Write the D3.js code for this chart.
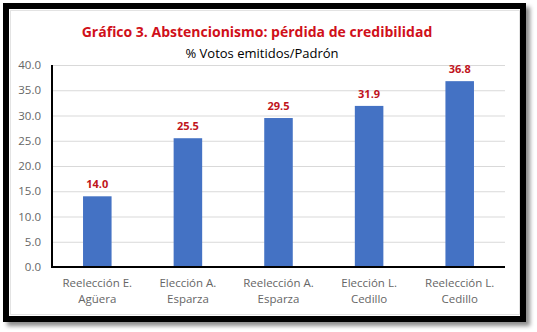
<!DOCTYPE html>
<html>
<head>
<meta charset="utf-8">
<script src="https://cdn.jsdelivr.net/npm/d3@7"></script>
<style>
  html, body { margin: 0; padding: 0; background: #fff; }
  svg { display: block; }
</style>
</head>
<body>
<svg id="chart" width="537" height="332"></svg>
<script>
// Abstention chart: share of votes cast over the electoral roll
const categories = [
  "Reelección E.\nAgüera",
  "Elección A.\nEsparza",
  "Reelección A.\nEsparza",
  "Elección L.\nCedillo",
  "Reelección L.\nCedillo"
];
const values = [14.0, 25.5, 29.5, 31.9, 36.8];
const yTicks = [0, 5, 10, 15, 20, 25, 30, 35, 40];
const titleText = "Gráfico 3. Abstencionismo: pérdida de credibilidad";
const subtitleText = "% Votos emitidos/Padrón";

const svg = d3.select("#chart");
const font = "'Open Sans', 'Noto Sans', sans-serif";

// Frame with soft drop shadow
const defs = svg.append("defs");
const f = defs.append("filter").attr("id", "shadow")
  .attr("x", "-5%").attr("y", "-5%").attr("width", "115%").attr("height", "115%");
f.append("feDropShadow").attr("dx", 4).attr("dy", 4).attr("stdDeviation", 2)
  .attr("flood-color", "#000").attr("flood-opacity", 0.45);

svg.append("rect")
  .attr("x", 6).attr("y", 6).attr("width", 517).attr("height", 313)
  .attr("fill", "#fff").attr("stroke", "#000").attr("stroke-width", 6)
  .attr("filter", "url(#shadow)");
svg.append("rect")
  .attr("x", 10.5).attr("y", 10.5).attr("width", 509).attr("height", 304)
  .attr("fill", "none").attr("stroke", "#e3e3e3").attr("stroke-width", 1);

const plot = { left: 52, right: 505, top: 65, bottom: 267 };

const x = d3.scaleBand().domain(categories).range([plot.left, plot.right])
  .paddingInner(0.685).paddingOuter(0.3425);
const y = d3.scaleLinear().domain([0, 40]).range([plot.bottom, plot.top]);

// Gridlines
svg.append("g")
  .attr("transform", `translate(${plot.left},0)`)
  .call(d3.axisLeft(y).tickValues(yTicks).tickSize(-(plot.right - plot.left)).tickFormat(""))
  .call(g => g.select(".domain").remove())
  .call(g => g.selectAll("line").attr("stroke", "#d9d9d9").attr("stroke-width", 1));

// Y tick labels
svg.append("g")
  .attr("transform", `translate(${plot.left},0)`)
  .call(d3.axisLeft(y).tickValues(yTicks).tickSize(0).tickPadding(11).tickFormat(d3.format(".1f")))
  .call(g => g.select(".domain").remove())
  .call(g => g.selectAll("text").attr("font-family", font).attr("font-size", 11.5).attr("fill", "#666"));

// Bars
svg.append("g").selectAll("rect")
  .data(values)
  .join("rect")
  .attr("x", (d, i) => x(categories[i]))
  .attr("width", x.bandwidth())
  .attr("y", d => y(d))
  .attr("height", d => y(0) - y(d))
  .attr("fill", "#4472C4");

// Value labels
svg.append("g").selectAll("text")
  .data(values)
  .join("text")
  .attr("x", (d, i) => x(categories[i]) + x.bandwidth() / 2)
  .attr("y", d => y(d) - 8)
  .attr("text-anchor", "middle")
  .attr("font-family", font).attr("font-weight", "bold").attr("font-size", 11)
  .attr("fill", "#C0141C")
  .text(d => d3.format(".1f")(d));

// Axis lines
svg.append("line")
  .attr("x1", plot.left).attr("x2", plot.left).attr("y1", plot.top).attr("y2", plot.bottom + 1)
  .attr("stroke", "#000").attr("stroke-width", 2);
svg.append("line")
  .attr("x1", plot.left - 1).attr("x2", plot.right).attr("y1", plot.bottom).attr("y2", plot.bottom)
  .attr("stroke", "#000").attr("stroke-width", 2);

// Category labels (two lines each)
const xAxis = svg.append("g")
  .attr("transform", `translate(0,${plot.bottom})`)
  .call(d3.axisBottom(x).tickSize(0).tickFormat(""))
  .call(g => g.select(".domain").remove());
xAxis.selectAll(".tick").append("text")
  .attr("text-anchor", "middle")
  .attr("font-family", font).attr("font-size", 11.5).attr("fill", "#666")
  .selectAll("tspan")
  .data(d => d.split("\n"))
  .join("tspan")
  .attr("x", 0)
  .attr("y", (d, i) => 20 + i * 16)
  .text(d => d);

// Titles
svg.append("text")
  .attr("x", 257).attr("y", 37)
  .attr("text-anchor", "middle")
  .attr("font-family", font).attr("font-weight", "bold").attr("font-size", 14)
  .attr("fill", "#D0101A")
  .text(titleText);
svg.append("text")
  .attr("x", 262).attr("y", 58)
  .attr("text-anchor", "middle")
  .attr("font-family", font).attr("font-size", 13)
  .attr("fill", "#000")
  .text(subtitleText);
</script>
</body>
</html>
